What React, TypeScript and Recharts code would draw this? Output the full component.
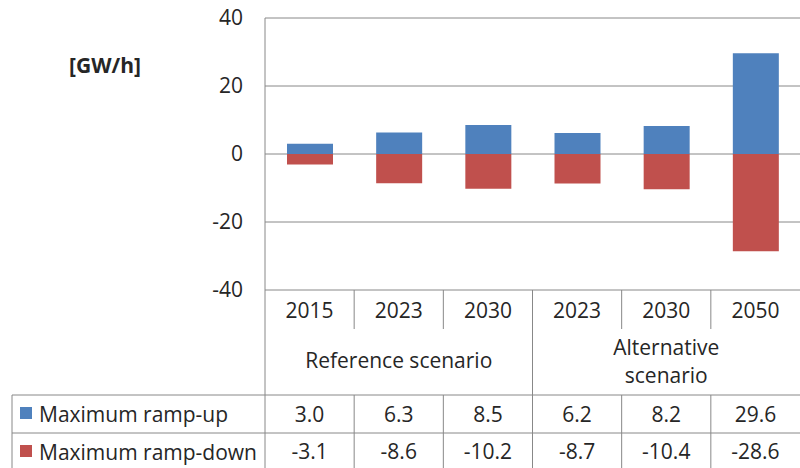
import { BarChart, Bar, XAxis, YAxis, CartesianGrid, Customized } from "recharts"

const years = ["2015", "2023", "2030", "2023", "2030", "2050"]
const rampUp = [3.0, 6.3, 8.5, 6.2, 8.2, 29.6]
const rampDown = [-3.1, -8.6, -10.2, -8.7, -10.4, -28.6]
const yTicks = [-40, -20, 0, 20, 40]
const groups = [
  { center: 1, lines: ["Reference scenario"] },
  { center: 4, lines: ["Alternative", "scenario"] },
]

const data = years.map((year, i) => ({ year, up: rampUp[i], down: rampDown[i] }))

const W = 800
const H = 468
const PLOT_LEFT = 265
const BAND = (W - PLOT_LEFT) / years.length
const FONT = "'Open Sans', sans-serif"
const FS = 21
const TEXT = "#262626"
const LINE = "#888888"
const BLUE = "#4F81BD"
const RED = "#C0504D"

function TableTick(props: any) {
  const { x, y, index } = props
  const top = y
  const right = x + BAND / 2
  const isLast = index === years.length - 1
  const groupEnd = index === 2
  const group = groups.find((g) => g.center === index)
  return (
    <g fontFamily={FONT} fontSize={FS} fill={TEXT}>
      <text x={x} y={top + 20} textAnchor="middle" dominantBaseline="central" fill={TEXT}>
        {years[index]}
      </text>
      {!isLast && (
        <line x1={right} x2={right} y1={top} y2={groupEnd ? H : top + 39} stroke={LINE} />
      )}
      {!isLast && !groupEnd && (
        <line x1={right} x2={right} y1={top + 105} y2={H} stroke={LINE} />
      )}
      {group &&
        group.lines.map((l, k) => (
          <text
            key={k}
            x={x}
            y={top + (group.lines.length === 1 ? 70 : 57 + k * 28)}
            textAnchor="middle"
            dominantBaseline="central"
            fill={TEXT}
          >
            {l}
          </text>
        ))}
      <text x={x} y={top + 124} textAnchor="middle" dominantBaseline="central" fill={TEXT}>
        {rampUp[index].toFixed(1)}
      </text>
      <text x={x} y={top + 161} textAnchor="middle" dominantBaseline="central" fill={TEXT}>
        {rampDown[index].toFixed(1)}
      </text>
    </g>
  )
}

function Frame() {
  return (
    <g fontFamily={FONT} fill={TEXT}>
      <line x1={PLOT_LEFT} x2={PLOT_LEFT} y1={18} y2={H} stroke={LINE} />
      <line x1={12} x2={W} y1={395} y2={395} stroke={LINE} />
      <line x1={12} x2={W} y1={433} y2={433} stroke={LINE} />
      <line x1={12} x2={12} y1={395} y2={H} stroke={LINE} />
      <text x={105} y={65} textAnchor="middle" dominantBaseline="central" fontSize={FS} fontWeight="bold">
        [GW/h]
      </text>
      <rect x={20} y={407} width={12} height={12} fill={BLUE} />
      <text x={39} y={414} dominantBaseline="central" fontSize={FS}>
        Maximum ramp-up
      </text>
      <rect x={20} y={445} width={12} height={12} fill={RED} />
      <text x={39} y={452} dominantBaseline="central" fontSize={FS}>
        Maximum ramp-down
      </text>
    </g>
  )
}

export default function App() {
  return (
    <div style={{ position: "absolute", left: 0, top: 0, width: W, height: H, background: "#fff" }}>
      <BarChart
        width={W}
        height={H}
        data={data}
        stackOffset="sign"
        margin={{ top: 18, right: 0, left: 0, bottom: 0 }}
      >
        <CartesianGrid vertical={false} stroke={LINE} />
        <YAxis
          width={PLOT_LEFT}
          domain={[-40, 40]}
          ticks={yTicks}
          axisLine={false}
          tickLine={false}
          tickSize={0}
          tickMargin={22}
          tick={{ fill: TEXT, fontSize: FS, fontFamily: FONT }}
        />
        <XAxis
          dataKey="year"
          height={178}
          axisLine={false}
          tickLine={false}
          tickSize={0}
          tickMargin={0}
          interval={0}
          tick={<TableTick />}
        />
        <Bar dataKey="up" stackId="a" fill={BLUE} barSize={46} isAnimationActive={false} />
        <Bar dataKey="down" stackId="a" fill={RED} barSize={46} isAnimationActive={false} />
        <Customized component={Frame} />
      </BarChart>
    </div>
  )
}
